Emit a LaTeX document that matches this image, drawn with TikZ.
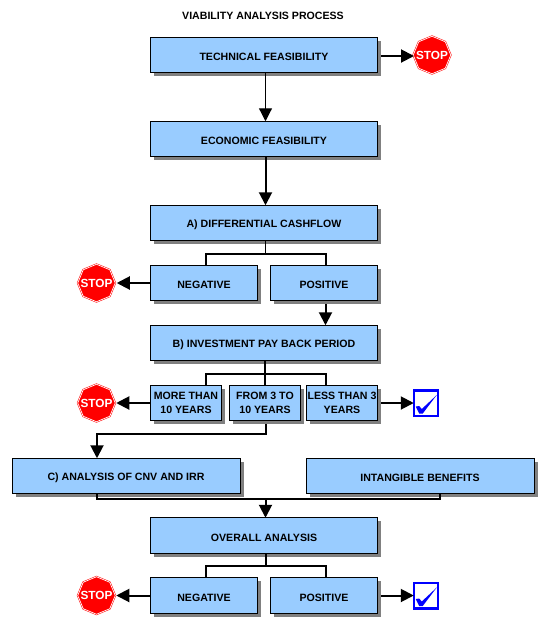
\documentclass[tikz,border=0pt]{standalone}
\usepackage{fontspec}
\setmainfont{Liberation Sans}
\usetikzlibrary{arrows.meta, positioning, shapes.geometric, shadows}

\begin{document}
\begin{tikzpicture}[
    x=1pt, y=1pt,
    >={Triangle[length=13pt,width=13pt]},
    stepnode/.style={draw=black, line width=1pt, fill=boxblue, rectangle,
        drop shadow={shadow xshift=3.5pt, shadow yshift=-3.5pt, fill=shadowgray, opacity=1},
        minimum height=35.5pt, inner sep=0pt, outer sep=0pt, align=center,
        execute at begin node={\rule{0pt}{12pt}},
        font=\fontsize{10.6}{13.5}\selectfont\bfseries},
    widenode/.style={stepnode, minimum width=227.5pt},
    halfnode/.style={stepnode, minimum width=107.5pt},
    thirdnode/.style={stepnode, minimum width=71.5pt},
    stopnode/.style={regular polygon, regular polygon sides=8, shape border rotate=22.5,
        draw=signred, double=white, double distance=0.7pt, line width=0.5pt, fill=signred,
        minimum size=37.5pt, inner sep=0pt, outer sep=0pt,
        label={[text=white, font=\fontsize{11.8}{12}\selectfont\bfseries]center:STOP}},
    checknode/.style={draw=checkblue, line width=2.5pt, fill=white, rectangle,
        minimum width=24pt, minimum height=25.5pt, inner sep=0pt, outer sep=0pt,
        path picture={\fill[checkblue, shift={(path picture bounding box.center)}]
            (-10,-3.5) -- (-6.5,-3) -- (-4,-6) -- (11,8) -- (-3,-10.5) -- (-6.5,-10.5) -- cycle;}},
    link/.style={line width=2pt},
    thinlink/.style={line width=1.2pt}
]
\definecolor{boxblue}{HTML}{99CCFF}
\definecolor{shadowgray}{HTML}{808080}
\definecolor{signred}{HTML}{FF0000}
\definecolor{checkblue}{HTML}{0000FF}

\useasboundingbox (0,0) rectangle (546,-633);

% Nodes
\node[font=\fontsize{10.6}{12}\selectfont\bfseries] (title) at (263,-16) {VIABILITY ANALYSIS PROCESS};
\node[widenode] (tech) at (264,-55) {TECHNICAL FEASIBILITY};
\node[stopnode, right=35.5pt of tech] (stop_tech) {};
\node[widenode, below=48.5pt of tech] (econ) {ECONOMIC FEASIBILITY};
\node[widenode, below=48.5pt of econ] (cash) {A) DIFFERENTIAL CASHFLOW};
\node[halfnode, below right=24.5pt and 0pt of cash.south west] (cash_neg) {NEGATIVE};
\node[halfnode, right=12.5pt of cash_neg] (cash_pos) {POSITIVE};
\node[stopnode, left=35pt of cash_neg] (stop_cash) {};
\node[widenode, below=24.5pt of cash_neg.south west, anchor=north west] (payback) {B) INVESTMENT PAY BACK PERIOD};
\node[thirdnode, below right=24.5pt and 0pt of payback.south west] (pay_more) {MORE THAN\\10 YEARS};
\node[thirdnode, right=7.5pt of pay_more] (pay_from) {FROM 3 TO\\10 YEARS};
\node[thirdnode, right=5.5pt of pay_from] (pay_less) {LESS THAN 3\\YEARS};
\node[stopnode, left=35pt of pay_more] (stop_pay) {};
\node[checknode, right=36pt of pay_less] (check_pay) {};
\node[stepnode, minimum width=228pt, below=37.5pt of pay_more, xshift=-60pt] (cnv) {C) ANALYSIS OF CNV AND IRR};
\node[stepnode, minimum width=228pt, right=66pt of cnv] (benefits) {INTANGIBLE BENEFITS};
\node[widenode, below=24pt of cnv, xshift=138pt] (overall) {OVERALL ANALYSIS};
\node[halfnode, below right=24.5pt and 0pt of overall.south west] (over_neg) {NEGATIVE};
\node[halfnode, right=12.5pt of over_neg] (over_pos) {POSITIVE};
\node[stopnode, left=35pt of over_neg] (stop_over) {};
\node[checknode, right=36pt of over_pos] (check_over) {};

% Paths
\draw[->, link, shorten >=-0.75pt] ([xshift=3.5pt,yshift=-1pt]tech.east) -- ([yshift=-1pt]stop_tech.west);
\draw[->, thinlink] ([xshift=1.5pt]tech.south) -- ([xshift=1.5pt]econ.north);
\draw[->, link] ([xshift=1.5pt]econ.south) -- ([xshift=1.5pt]cash.north);
\draw[thinlink] ([xshift=1.5pt]cash.south) -- ++(0,-13);
\draw[link] ([xshift=1.5pt]cash_neg.north) |- ([xshift=1.5pt,yshift=-13pt]cash.south) -| ([xshift=1.5pt]cash_pos.north);
\draw[->, link, shorten >=1.5pt] (cash_neg.west) -- (stop_cash.east);
\draw[->, link] ([xshift=1.5pt,yshift=-3.5pt]cash_pos.south) -- ([xshift=1.5pt]cash_pos.south |- payback.north);
\draw[link] ([xshift=0.5pt]payback.south |- pay_from.north) -- ([xshift=0.5pt]payback.south);
\draw[link] ([xshift=1.5pt]cash_neg.south |- pay_more.north) |- ([xshift=1.5pt,yshift=-13pt]payback.south) -| ([xshift=1.5pt]cash_pos.south |- pay_less.north);
\draw[->, link, shorten >=1pt] (pay_more.west) -- (stop_pay.east);
\draw[->, link] ([xshift=3.5pt]pay_less.east) -- (check_pay.west);
\draw[->, link] (pay_from.south) ++(0.5,-3.5) -- ++(0,-9.5) -| ([xshift=-29pt]cnv.north);
\draw[link] ([xshift=-29pt]cnv.south) |- ([xshift=20pt,yshift=-5pt]benefits.south) -- ([xshift=20pt]benefits.south);
\draw[->, link] ([xshift=1.5pt,yshift=-5pt]overall.north |- cnv.south) -- ([xshift=1.5pt]overall.north);
\draw[link] ([xshift=1.5pt]overall.south) -- ++(0,-13);
\draw[link] ([xshift=1.5pt]over_neg.north) |- ([xshift=1.5pt,yshift=-13pt]overall.south) -| ([xshift=1.5pt]over_pos.north);
\draw[->, link, shorten >=1pt] (over_neg.west) -- (stop_over.east);
\draw[->, link] ([xshift=3.5pt]over_pos.east) -- (check_over.west);

\end{tikzpicture}
\end{document}
